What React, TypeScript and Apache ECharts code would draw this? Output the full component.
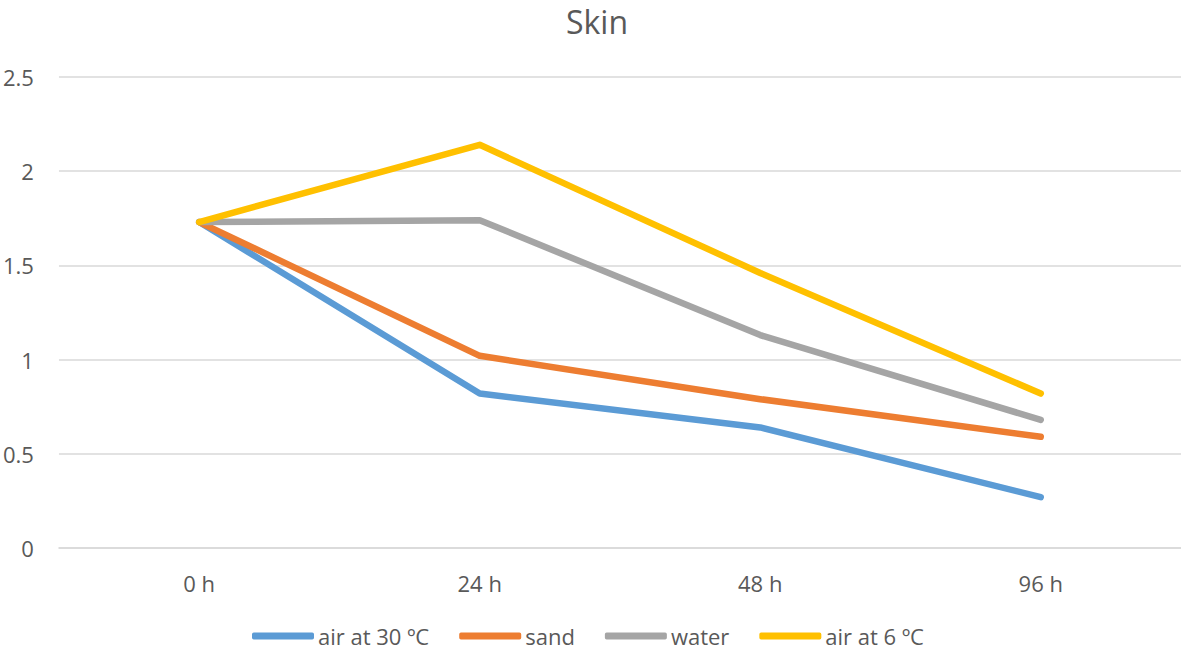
import React, { useEffect, useRef } from "react";
import * as echarts from "echarts";

const categories = ["0 h", "24 h", "48 h", "96 h"];
const seriesNames = ["air at 30 ºC", "sand", "water", "air at 6 ºC"];
const air30 = [1.73, 0.82, 0.64, 0.27];
const sand = [1.73, 1.02, 0.79, 0.59];
const water = [1.73, 1.74, 1.13, 0.68];
const air6 = [1.73, 2.14, 1.46, 0.82];
const colors = ["#5B9BD5", "#ED7D31", "#A5A5A5", "#FFC000"];

const FONT = "'Open Sans', sans-serif";
const TXT = "#595959";

export default function App() {
  const ref = useRef<HTMLDivElement>(null);
  useEffect(() => {
    if (!ref.current) return;
    const chart = echarts.init(ref.current, null, { renderer: "svg" });
    const data = [air30, sand, water, air6];
    chart.setOption({
      animation: false,
      backgroundColor: "#ffffff",
      title: {
        text: "Skin",
        left: 597,
        textAlign: "center",
        top: 3,
        padding: 0,
        textStyle: { fontFamily: FONT, fontSize: 32, lineHeight: 36, fontWeight: "normal", color: TXT },
      },
      grid: { left: 57, right: 0, top: 77, bottom: 104, containLabel: false },
      xAxis: {
        type: "category",
        data: categories,
        boundaryGap: true,
        axisLine: { show: true, lineStyle: { color: "#D9D9D9", width: 1.5 } },
        axisTick: { show: false },
        axisLabel: { margin: 24, fontFamily: FONT, fontSize: 22, color: TXT },
      },
      yAxis: {
        type: "value",
        min: 0,
        max: 2.5,
        interval: 0.5,
        axisLine: { show: false },
        axisTick: { show: false },
        splitLine: { lineStyle: { color: "#D9D9D9", width: 1.5 } },
        axisLabel: { margin: 25, fontFamily: FONT, fontSize: 22, color: TXT },
      },
      legend: {
        left: 252,
        top: 625,
        padding: 0,
        itemGap: 30,
        itemWidth: 62,
        itemHeight: 7,
        icon: "roundRect",
        textStyle: { fontFamily: FONT, fontSize: 22, color: TXT, lineHeight: 22, padding: [0, 0, 0, -1] },
        data: seriesNames,
      },
      series: seriesNames.map((name, i) => ({
        name,
        type: "line",
        data: data[i],
        showSymbol: false,
        symbol: "none",
        color: colors[i],
        lineStyle: { width: 6.5, color: colors[i], cap: "round", join: "round" },
        itemStyle: { color: colors[i] },
      })),
    });
    return () => chart.dispose();
  }, []);
  return (
    <div
      ref={ref}
      style={{ position: "absolute", left: 0, top: 0, width: 1181, height: 652 }}
    />
  );
}
